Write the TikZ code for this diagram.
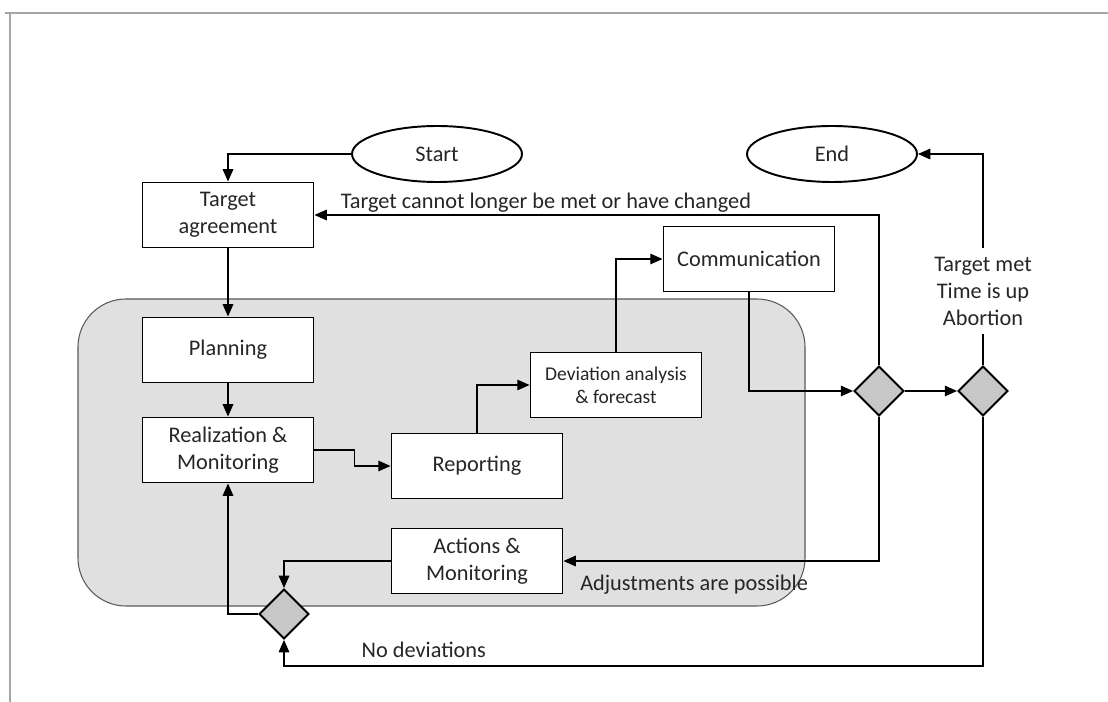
\documentclass[tikz,border=0pt]{standalone}
\usepackage{fontspec}
\setmainfont{Carlito}
\usetikzlibrary{shapes.geometric,arrows.meta}

\begin{document}
\begin{tikzpicture}[x=0.02cm,y=-0.02cm,
  font=\fontsize{12.7}{15.3}\selectfont,text=black!85,
  box/.style={draw,line width=1.1pt,fill=white,minimum width=3.42cm,minimum height=1.3cm,inner sep=0pt,align=center},
  term/.style={draw,ellipse,line width=1.1pt,fill=white,minimum width=3.4cm,minimum height=1.12cm,inner sep=0pt},
  decision/.style={draw,diamond,line width=1.1pt,fill=black!22,minimum size=1cm,inner sep=0pt},
  flow/.style={-{Triangle[length=7pt,width=6pt]},line width=0.75pt}]
  \useasboundingbox (0,0) rectangle (1108,702);

  % frame and control area
  \draw[gray!70,line width=1.1pt] (5,13) -- (1108,13);
  \draw[gray!70,line width=1.1pt] (10,13) -- (10,702);
  \draw[rounded corners=0.96cm,fill=black!12,draw=black!65,line width=0.6pt] (78,299) rectangle (805,606);

  \node[term] (start) at (437,154) {Start};
  \node[term] (stop) at (832,154) {End};

  \node[box] (target) at (228,215) {Target\\agreement};
  \node[box] (planning) at (228,350) {Planning};
  \node[box] (realization) at (228,450) {Realization \&\\Monitoring};
  \node[box] (reporting) at (477,466) {Reporting};
  \node[box,font=\fontsize{11.1}{12.9}\selectfont] (deviation) at (616,385) {Deviation analysis\\\& forecast};
  \node[box] (communication) at (749,259) {Communication};
  \node[box] (actions) at (477,561) {Actions \&\\Monitoring};

  \node[decision] (dec1) at (879,391) {};
  \node[decision] (dec2) at (983,391) {};
  \node[decision] (dec3) at (284,614) {};

  \draw[flow] (start.west) -| (target.north);
  \draw[flow] (target) -- (planning);
  \draw[flow] (planning) -- (realization);
  \draw[flow] (realization.east) -- ++(40,0) |- (reporting.west);
  \draw[flow] (reporting.north) |- (deviation.west);
  \draw[flow] (deviation.north) |- (communication.west);
  \draw[flow] (communication.south) |- (dec1.west);
  \draw[flow] (dec1) -- (dec2);
  \draw[flow] (dec1.north) |- node[pos=0.795,above,inner sep=1pt]{Target cannot longer be met or have changed} (target.east);
  \draw[flow] (dec1.south) |- node[pos=0.793,below,yshift=-4pt]{Adjustments are possible} (actions.east);
  \draw[flow] (actions.west) -| (dec3.north);
  \draw[flow] (dec3.west) -| (realization.south);
  \draw[flow] (dec2.south) -- ++(0,249) -| node[pos=0.4,above,yshift=1pt]{No deviations} (dec3.south);
  \draw[flow] (dec2.north) |- node[pos=0.175,fill=white,align=center,inner ysep=0.18cm]{Target met\\Time is up\\Abortion} (stop.east);
\end{tikzpicture}
\end{document}
